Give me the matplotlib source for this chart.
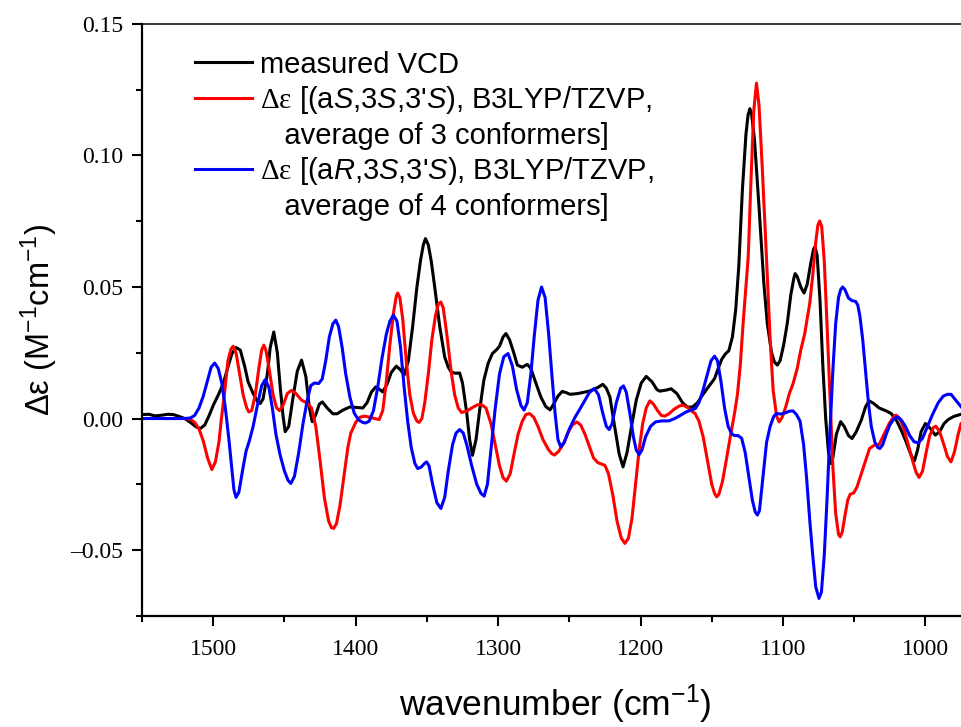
import matplotlib
matplotlib.use('Agg')
import matplotlib.pyplot as plt
from matplotlib.ticker import MultipleLocator, FuncFormatter
from matplotlib.lines import Line2D

plt.rcParams['font.family'] = ['Liberation Sans', 'DejaVu Sans']
plt.rcParams['mathtext.fontset'] = 'custom'
plt.rcParams['mathtext.rm'] = 'Liberation Sans'
plt.rcParams['mathtext.it'] = 'Liberation Sans:italic'
plt.rcParams['mathtext.sf'] = 'Liberation Serif'

# measured VCD spectrum (wavenumber, delta epsilon)
measured = [
    (1550, 0.0015), (1545, 0.0016), (1541, 0.0010), (1537, 0.0012), (1532, 0.0016),
    (1528, 0.0015), (1524, 0.0008), (1520, 0.0000), (1516, -0.0015), (1512, -0.0032),
    (1509, -0.0038), (1506, -0.0025), (1503, 0.0010), (1500, 0.0050), (1496, 0.0095),
    (1493, 0.0133), (1490, 0.0190), (1487, 0.0245), (1484, 0.0270), (1481, 0.0260),
    (1478, 0.0200), (1475.5, 0.0139), (1472, 0.0095), (1469, 0.0065), (1467, 0.0057),
    (1465, 0.0075), (1462, 0.0170), (1460, 0.0270), (1457.5, 0.0329), (1455, 0.0250),
    (1453, 0.0120), (1451, 0.0010), (1449.5, -0.0050), (1447, -0.0030), (1444, 0.0080),
    (1441, 0.0180), (1438, 0.0222), (1435, 0.0160), (1432.5, 0.0040), (1430.5, -0.0012),
    (1428, 0.0015), (1425.5, 0.0055), (1423.4, 0.0063), (1420, 0.0040), (1416, 0.0018),
    (1413, 0.0018), (1409, 0.0032), (1404, 0.0044), (1399, 0.0042), (1395, 0.0040),
    (1392, 0.0060), (1389, 0.0100), (1386, 0.0120), (1383, 0.0110), (1381, 0.0101),
    (1378, 0.0130), (1375, 0.0175), (1371.5, 0.0199), (1368.5, 0.0185), (1366, 0.0165),
    (1363, 0.0220), (1360, 0.0350), (1357, 0.0500), (1354.5, 0.0600), (1352.5, 0.0660),
    (1351, 0.0684), (1349, 0.0660), (1347, 0.0600), (1344.5, 0.0500), (1341, 0.0350),
    (1337.5, 0.0234), (1335, 0.0195), (1333, 0.0177), (1330, 0.0172), (1327, 0.0173),
    (1325, 0.0135), (1322, 0.0020), (1320, -0.0080), (1318, -0.0140), (1315.5, -0.0080),
    (1313, 0.0030), (1310, 0.0146), (1307, 0.0210), (1304, 0.0247), (1301, 0.0262),
    (1299, 0.0275), (1296.5, 0.0310), (1294.5, 0.0323), (1292, 0.0300), (1289, 0.0250),
    (1286.5, 0.0203), (1283, 0.0195), (1279.5, 0.0206), (1277, 0.0190), (1273.5, 0.0135),
    (1270, 0.0082), (1266.5, 0.0045), (1263.5, 0.0033), (1261, 0.0055), (1258, 0.0085),
    (1255, 0.0103), (1252, 0.0098), (1249.5, 0.0092), (1244, 0.0095), (1236, 0.0104),
    (1230, 0.0118), (1226.5, 0.0130), (1224, 0.0115), (1221.5, 0.0082), (1218.5, -0.0020),
    (1215, -0.0135), (1212.3, -0.0184), (1209.5, -0.0130), (1206, -0.0020), (1203, 0.0070),
    (1199.5, 0.0135), (1196, 0.0160), (1192, 0.0140), (1188.5, 0.0110), (1186.5, 0.0104),
    (1182, 0.0108), (1178.5, 0.0113), (1174.5, 0.0095), (1170.5, 0.0060), (1167, 0.0043),
    (1163.5, 0.0044), (1160, 0.0060), (1157, 0.0085), (1154, 0.0108), (1151, 0.0130),
    (1148, 0.0152), (1145.5, 0.0190), (1143, 0.0225), (1140.5, 0.0245), (1138, 0.0258),
    (1135.5, 0.0310), (1133.2, 0.0412), (1131, 0.0580), (1128.5, 0.0868), (1126, 0.1080),
    (1124.5, 0.1155), (1123.2, 0.1178), (1122, 0.1155), (1120, 0.1060), (1116.8, 0.0804),
    (1113.5, 0.0520), (1111, 0.0361), (1108, 0.0250), (1106, 0.0215), (1104, 0.0203),
    (1102, 0.0220), (1099.5, 0.0280), (1097, 0.0361), (1094.5, 0.0470), (1092.5, 0.0530),
    (1091.5, 0.0551), (1090, 0.0540), (1087.5, 0.0500), (1085.2, 0.0477), (1083, 0.0510),
    (1080.5, 0.0590), (1078.5, 0.0645), (1077.5, 0.0652), (1076, 0.0620), (1074, 0.0450),
    (1072, 0.0200), (1070, 0.0000), (1068, -0.0130), (1066.5, -0.0171), (1065, -0.0150),
    (1062.5, -0.0060), (1059.5, -0.0012), (1057, -0.0030), (1054, -0.0065), (1051.5, -0.0076),
    (1048.5, -0.0050), (1045, -0.0006), (1042, 0.0045), (1039.5, 0.0067), (1036.5, 0.0058),
    (1032.5, 0.0040), (1028, 0.0030), (1024, 0.0019), (1020, -0.0010), (1016.5, -0.0050),
    (1013.5, -0.0089), (1010, -0.0140), (1007.7, -0.0161), (1005.5, -0.0120), (1003, -0.0050),
    (1000, -0.0019), (997, -0.0035), (993, -0.0063), (990, -0.0050), (987, -0.0020),
    (984, -0.0004), (980, 0.0008), (975, 0.0016),
]

# calculated (aS,3S,3'S), average of 3 conformers
calc_aS = [
    (1550, 0.0), (1520, 0.0), (1516, -0.0003), (1513, -0.0015), (1510, -0.0040),
    (1507, -0.0085), (1504, -0.0150), (1501, -0.0194), (1498.5, -0.0165), (1496, -0.0090),
    (1494.4, -0.0006), (1492, 0.0100), (1489.7, 0.0220), (1487.5, 0.0265), (1486, 0.0275),
    (1484, 0.0250), (1481.5, 0.0170), (1479, 0.0090), (1476.5, 0.0040), (1475, 0.0025),
    (1473, 0.0030), (1470.5, 0.0090), (1468, 0.0190), (1466, 0.0260), (1464.5, 0.0279),
    (1463, 0.0260), (1460.5, 0.0180), (1458, 0.0090), (1455.5, 0.0040), (1453.5, 0.0030),
    (1451, 0.0050), (1448, 0.0095), (1445, 0.0107), (1442, 0.0095), (1438, 0.0070),
    (1434, 0.0058), (1431, 0.0040), (1428, -0.0030), (1425, -0.0160), (1422, -0.0300),
    (1419, -0.0390), (1417, -0.0415), (1415.5, -0.0418), (1413.5, -0.0400), (1411, -0.0330),
    (1408, -0.0210), (1405.5, -0.0110), (1403.5, -0.0057), (1400, -0.0015), (1397, 0.0005),
    (1394, 0.0009), (1390, 0.0005), (1386, -0.0001), (1383.5, -0.0004), (1381, 0.0030),
    (1378.5, 0.0140), (1376, 0.0280), (1373.5, 0.0400), (1371.5, 0.0465), (1370.5, 0.0477),
    (1369, 0.0460), (1367, 0.0380), (1364.5, 0.0220), (1362, 0.0090), (1359.5, 0.0020),
    (1357, -0.0010), (1355.5, -0.0015), (1353.5, 0.0000), (1351.5, 0.0060), (1349, 0.0170),
    (1346.5, 0.0300), (1344, 0.0390), (1342, 0.0435), (1340.2, 0.0443), (1338.5, 0.0420),
    (1336, 0.0320), (1333, 0.0180), (1330.5, 0.0090), (1328, 0.0040), (1325.7, 0.0023),
    (1322, 0.0028), (1318, 0.0042), (1314.5, 0.0052), (1311.7, 0.0053), (1308.5, 0.0040),
    (1305, -0.0020), (1302, -0.0100), (1299, -0.0180), (1296.5, -0.0225), (1294.2, -0.0238),
    (1291.5, -0.0210), (1289, -0.0140), (1286, -0.0060), (1283, -0.0010), (1280.5, 0.0015),
    (1278, 0.0019), (1275, 0.0005), (1272, -0.0030), (1268.5, -0.0080), (1265, -0.0115),
    (1262.5, -0.0133), (1260.4, -0.0139), (1257.5, -0.0125), (1254, -0.0095), (1251, -0.0055),
    (1248, -0.0025), (1244.7, -0.0013), (1242, -0.0025), (1239, -0.0060), (1236, -0.0105),
    (1233, -0.0150), (1230, -0.0168), (1227, -0.0174), (1225, -0.0178), (1222.5, -0.0210),
    (1219.5, -0.0290), (1216.5, -0.0390), (1213.5, -0.0455), (1211, -0.0475), (1208.5, -0.0455),
    (1206, -0.0380), (1203.5, -0.0250), (1201, -0.0120), (1198.5, -0.0020), (1196, 0.0040),
    (1193.5, 0.0067), (1191, 0.0055), (1188, 0.0030), (1185.5, 0.0012), (1183, 0.0009),
    (1180, 0.0018), (1176.5, 0.0035), (1173, 0.0047), (1170.3, 0.0051), (1167, 0.0042),
    (1164, 0.0028), (1161.7, 0.0019), (1159, -0.0010), (1156, -0.0070), (1153, -0.0160),
    (1150, -0.0250), (1148, -0.0285), (1146.6, -0.0298), (1145, -0.0288), (1142.5, -0.0240),
    (1140, -0.0165), (1137, -0.0070), (1134, 0.0020), (1132, 0.0090), (1130, 0.0200),
    (1128, 0.0360), (1126, 0.0500), (1124.4, 0.0614), (1122.5, 0.0900), (1120.5, 0.1170),
    (1118.6, 0.1275), (1116.8, 0.1190), (1114.5, 0.0950), (1111.6, 0.0614), (1109, 0.0300),
    (1106.9, 0.0108), (1104.5, 0.0010), (1102.7, -0.0013), (1100.5, 0.0005), (1098, 0.0045),
    (1095.5, 0.0095), (1092.9, 0.0133), (1090, 0.0190), (1087.5, 0.0260), (1084.7, 0.0323),
    (1083, 0.0380), (1081.2, 0.0437), (1079, 0.0550), (1077, 0.0670), (1075.5, 0.0735),
    (1074.2, 0.0751), (1072.8, 0.0730), (1071, 0.0600), (1069, 0.0350), (1067, 0.0080),
    (1065, -0.0180), (1063, -0.0360), (1061, -0.0440), (1059.8, -0.0450), (1058.3, -0.0430),
    (1056.5, -0.0370), (1054.5, -0.0310), (1052.8, -0.0288), (1050.3, -0.0283), (1048, -0.0260),
    (1045, -0.0210), (1042, -0.0160), (1039.2, -0.0114), (1036, -0.0102), (1032.4, -0.0098),
    (1029, -0.0060), (1025.5, -0.0020), (1022.5, 0.0005), (1020.6, 0.0013), (1018, 0.0000),
    (1015, -0.0040), (1012, -0.0100), (1009, -0.0160), (1006.5, -0.0205), (1004.4, -0.0224),
    (1002, -0.0200), (999.5, -0.0130), (997, -0.0065), (994.5, -0.0035), (992.7, -0.0029),
    (990, -0.0050), (987, -0.0100), (984.5, -0.0145), (982, -0.0165), (979.5, -0.0125),
    (977, -0.0060), (975, -0.0020),
]

# calculated (aR,3S,3'S), average of 4 conformers
calc_aR = [
    (1550, 0.0), (1520, 0.0), (1516, 0.0002), (1513, 0.0012), (1510, 0.0040),
    (1507, 0.0085), (1504, 0.0145), (1501.5, 0.0195), (1499, 0.0211), (1496.5, 0.0190),
    (1494, 0.0135), (1491.5, 0.0040), (1489, -0.0080), (1487, -0.0190), (1485.5, -0.0270),
    (1484, -0.0300), (1482, -0.0280), (1479.5, -0.0200), (1477, -0.0125), (1474.5, -0.0082),
    (1472, -0.0030), (1469, 0.0050), (1466, 0.0125), (1463.5, 0.0148), (1461, 0.0120),
    (1458.5, 0.0040), (1456, -0.0060), (1453, -0.0140), (1450, -0.0200), (1447.5, -0.0235),
    (1445.5, -0.0247), (1443, -0.0220), (1440, -0.0130), (1437, -0.0020), (1434, 0.0070),
    (1431.5, 0.0125), (1429, 0.0135), (1426, 0.0133), (1423.5, 0.0150), (1421, 0.0220),
    (1418.5, 0.0310), (1416, 0.0360), (1414, 0.0374), (1412, 0.0350), (1409.5, 0.0270),
    (1407, 0.0170), (1404, 0.0080), (1401, 0.0020), (1398, -0.0005), (1395, -0.0015),
    (1393, -0.0017), (1390.5, -0.0010), (1387.5, 0.0030), (1384.5, 0.0120), (1381.5, 0.0230),
    (1378.5, 0.0320), (1376, 0.0370), (1373.5, 0.0393), (1371, 0.0370), (1368.5, 0.0270),
    (1366, 0.0120), (1363.5, -0.0010), (1361, -0.0110), (1358.5, -0.0170), (1356.5, -0.0190),
    (1354, -0.0185), (1351.5, -0.0170), (1350.2, -0.0165), (1348.5, -0.0180), (1346, -0.0250),
    (1343, -0.0320), (1340.2, -0.0342), (1337.5, -0.0300), (1335, -0.0200), (1332, -0.0100),
    (1329.5, -0.0055), (1327, -0.0042), (1324.5, -0.0055), (1322, -0.0100), (1318.5, -0.0180),
    (1315, -0.0250), (1312, -0.0285), (1309.8, -0.0295), (1307.5, -0.0250), (1305, -0.0120),
    (1302, 0.0040), (1299, 0.0170), (1296, 0.0235), (1293, 0.0247), (1290, 0.0200),
    (1287, 0.0110), (1284, 0.0050), (1281.8, 0.0032), (1279.5, 0.0060), (1277, 0.0170),
    (1274.5, 0.0320), (1272, 0.0450), (1269.5, 0.0500), (1267, 0.0460), (1264.5, 0.0320),
    (1262, 0.0150), (1260, 0.0020), (1258, -0.0080), (1256, -0.0108), (1253.5, -0.0090),
    (1250, -0.0040), (1246, 0.0005), (1243, 0.0032), (1239.5, 0.0065), (1236, 0.0098),
    (1232.5, 0.0114), (1229.5, 0.0090), (1226.5, 0.0020), (1224, -0.0030), (1222, -0.0042),
    (1220, -0.0020), (1217, 0.0060), (1214, 0.0115), (1212, 0.0124), (1210, 0.0100),
    (1207.5, 0.0020), (1205, -0.0070), (1203, -0.0120), (1201, -0.0137), (1199, -0.0120),
    (1196.5, -0.0070), (1193, -0.0030), (1189.5, -0.0013), (1185, -0.0009), (1180, -0.0009),
    (1176, 0.0000), (1172, 0.0012), (1168, 0.0025), (1164, 0.0033), (1161.5, 0.0038),
    (1159, 0.0060), (1156, 0.0110), (1153, 0.0170), (1150.5, 0.0220), (1148, 0.0237),
    (1146, 0.0220), (1143.5, 0.0140), (1141, 0.0040), (1138.5, -0.0030), (1136, -0.0058),
    (1134, -0.0065), (1131.5, -0.0065), (1129, -0.0075), (1126.5, -0.0130), (1124, -0.0220),
    (1121.5, -0.0310), (1119.5, -0.0355), (1118, -0.0367), (1116.5, -0.0350), (1114, -0.0220),
    (1111.5, -0.0090), (1109, -0.0030), (1106.5, 0.0008), (1104.5, 0.0019), (1101.5, 0.0017),
    (1098, 0.0022), (1095.5, 0.0028), (1093, 0.0029), (1090.5, 0.0015), (1088, -0.0010),
    (1085.5, -0.0100), (1083.5, -0.0220), (1081, -0.0400), (1079, -0.0526), (1077, -0.0640),
    (1074.7, -0.0684), (1073, -0.0660), (1071, -0.0520), (1069, -0.0300), (1067, -0.0050),
    (1065, 0.0180), (1063, 0.0360), (1061, 0.0460), (1059.5, 0.0490), (1058.1, 0.0500),
    (1056.5, 0.0490), (1054, 0.0458), (1051.5, 0.0448), (1049, 0.0445), (1047.5, 0.0432),
    (1046, 0.0390), (1044, 0.0300), (1042, 0.0180), (1040, 0.0060), (1038, -0.0030),
    (1035.5, -0.0090), (1033.5, -0.0110), (1032, -0.0114), (1030, -0.0100), (1027.5, -0.0060),
    (1025, -0.0025), (1022, 0.0000), (1019.6, 0.0006), (1017, -0.0005), (1014, -0.0030),
    (1011, -0.0065), (1008, -0.0088), (1005, -0.0093), (1002, -0.0075), (998.5, -0.0030),
    (995, 0.0015), (991, 0.0060), (987.5, 0.0085), (984.5, 0.0092), (982, 0.0092),
    (979.5, 0.0075), (977, 0.0058), (975, 0.0045),
]

meas_wn, meas_de = zip(*measured)
aS_wn, aS_de = zip(*calc_aS)
aR_wn, aR_de = zip(*calc_aR)

LW = 2.2

fig = plt.figure(figsize=(9.61, 7.27), dpi=100)
ax = fig.add_axes([0.1478, 0.153, 0.8522, 0.814])

ax.plot(meas_wn, meas_de, color='black', lw=LW)
ax.plot(aS_wn, aS_de, color='#ff0000', lw=LW)
ax.plot(aR_wn, aR_de, color='#0000ff', lw=LW)

ax.set_xlim(1550, 975)
ax.set_ylim(-0.075, 0.15)

ax.xaxis.set_major_locator(MultipleLocator(100))
ax.xaxis.set_minor_locator(MultipleLocator(50))
ax.yaxis.set_major_locator(MultipleLocator(0.05))
ax.yaxis.set_minor_locator(MultipleLocator(0.025))


def yfmt(v, pos):
    if abs(v) < 1e-9:
        return '0.00'
    return f'{v:.2f}'.replace('-', '\u2013')


ax.yaxis.set_major_formatter(FuncFormatter(yfmt))
ax.tick_params(which='both', direction='out', width=1.5, top=False, right=False,
               labelfontfamily='Liberation Serif', labelsize=17)
ax.tick_params(which='major', length=7.5)
ax.tick_params(which='minor', length=4.5)
ax.tick_params(axis='x', which='major', pad=9.5)
ax.tick_params(axis='y', which='major', pad=6)

ax.spines['right'].set_visible(False)
ax.spines['left'].set_linewidth(1.6)
ax.spines['bottom'].set_linewidth(1.6)
ax.spines['top'].set_linewidth(1.1)

ax.set_xlabel(r'wavenumber (cm$^{-1}$)', fontsize=25.5)
ax.set_ylabel(r'Δε (M$^{-1}$cm$^{-1}$)', fontsize=23.5)
ax.xaxis.set_label_coords(0.504, -0.112)
ax.yaxis.set_label_coords(-0.100, 0.5)

handles = [
    Line2D([], [], color='black', lw=LW),
    Line2D([], [], color='#ff0000', lw=LW),
    Line2D([], [], color='none'),
    Line2D([], [], color='#0000ff', lw=LW),
    Line2D([], [], color='none'),
]
labels = [
    'measured VCD',
    r"$\mathsf{\Delta\varepsilon}$ [(a$\mathit{S}$,3$\mathit{S}$,3'$\mathit{S}$), B3LYP/TZVP,",
    '   average of 3 conformers]',
    r"$\mathsf{\Delta\varepsilon}$ [(a$\mathit{R}$,3$\mathit{S}$,3'$\mathit{S}$), B3LYP/TZVP,",
    '   average of 4 conformers]',
]
ax.legend(handles, labels, loc='upper left', bbox_to_anchor=(0.0647, 0.955),
          frameon=False, fontsize=21, handlelength=1.95, handletextpad=0.27,
          labelspacing=0.19, borderpad=0, borderaxespad=0)

fig.savefig('out.png', dpi=100)
